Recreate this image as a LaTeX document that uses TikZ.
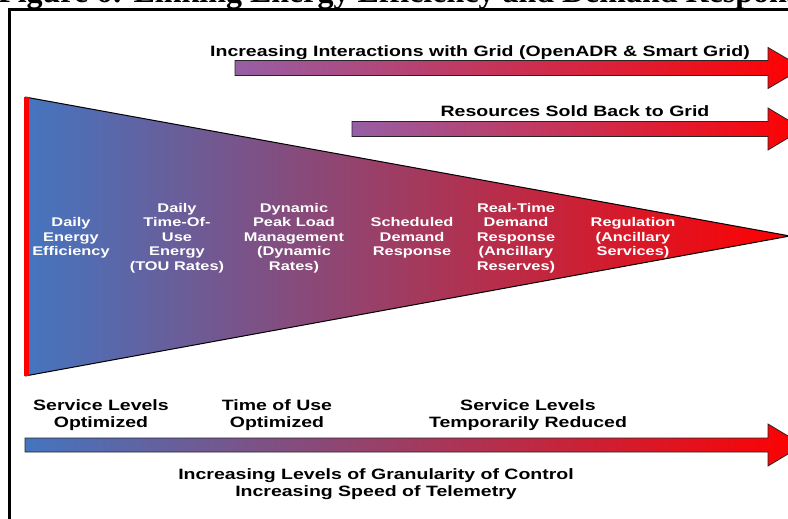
\documentclass[tikz,border=0pt]{standalone}
\usepackage{fontspec}
\setmainfont{Liberation Serif}
\newfontfamily\lab[FakeStretch=1.3]{Liberation Sans}
\definecolor{lblue}{RGB}{68,117,192}
\definecolor{lred}{RGB}{255,0,0}
\definecolor{lpurple}{RGB}{150,95,165}
\begin{document}
\begin{tikzpicture}[x=1pt,y=-1pt,
  inlabel/.style={align=center,text=white,inner sep=0,font=\lab\bfseries\fontsize{12.6}{14.5}\selectfont},
  outlabel/.style={align=center,text=black,inner sep=0,font=\lab\bfseries\fontsize{15}{17.5}\selectfont},
  arrowbody/.style={draw=black!85,line width=0.8,right color=lred},
]
\clip (0,0) rectangle (788,519);
\fill[white] (0,0) rectangle (788,519);
% title
\node[anchor=base west,inner sep=0,font=\bfseries\fontsize{32}{32}\selectfont] (title) at (-2,3) {Figure 6: Linking Energy Efficiency and Demand Response};
% frame
\draw[line width=3] (9.8,519) -- (9.8,10) -- (790,10);
% top arrow
\shade[arrowbody,left color=lpurple] (235,60.5) -- (768,60.5) -- (768,47.5) -- (803,68) -- (768,88.5) -- (768,75.5) -- (235,75.5) -- cycle;
\node[outlabel] (grid) at (480,52.5) {Increasing Interactions with Grid (OpenADR \& Smart Grid)};
% second arrow
\shade[arrowbody,left color=lpurple] (352,121.5) -- (768,121.5) -- (768,108) -- (803,129) -- (768,150) -- (768,136.5) -- (352,136.5) -- cycle;
\node[outlabel] (sold) at (575,111.5) {Resources Sold Back to Grid};
% triangle
\shade[left color=lblue,right color=lred] (25,97) -- (790,236) -- (25,376) -- cycle;
\draw[black,line width=1] (25,97) -- (790,236) -- (25,376);
\draw[lred,line width=4.7] (26.7,97) -- (26.7,376);
\node[inlabel] (dee) at (71,238) {Daily\\Energy\\Efficiency};
\node[inlabel] (tou) at (177,238) {Daily\\Time-Of-\\Use\\Energy\\(TOU Rates)};
\node[inlabel] (peak) at (294,238) {Dynamic\\Peak Load\\Management\\(Dynamic\\Rates)};
\node[inlabel] (sched) at (412,238) {Scheduled\\Demand\\Response};
\node[inlabel] (rt) at (516,238) {Real-Time\\Demand\\Response\\(Ancillary\\Reserves)};
\node[inlabel] (reg) at (633,238) {Regulation\\(Ancillary\\Services)};
% bottom arrow
\shade[arrowbody,left color=lblue] (25,438) -- (768,438) -- (768,424) -- (803,445) -- (768,466) -- (768,452) -- (25,452) -- cycle;
\node[outlabel] (svo) at (101,415) {Service Levels\\Optimized};
\node[outlabel] (tuo) at (277,415) {Time of Use\\Optimized};
\node[outlabel] (svr) at (528,415) {Service Levels\\Temporarily Reduced};
\node[outlabel] (gran) at (376,484) {Increasing Levels of Granularity of Control\\Increasing Speed of Telemetry};
\end{tikzpicture}
\end{document}
